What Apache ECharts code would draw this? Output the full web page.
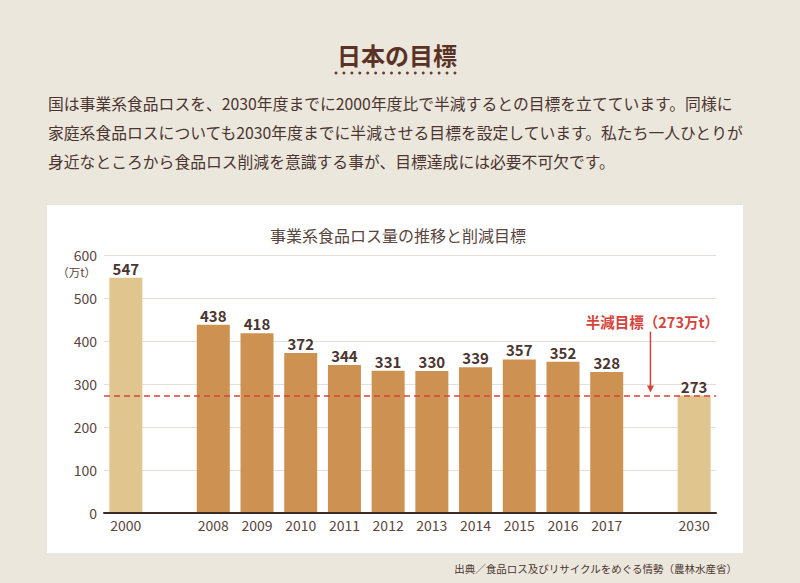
<!DOCTYPE html>
<html><head><meta charset="utf-8">
<script src="https://cdn.jsdelivr.net/npm/echarts@6/dist/echarts.min.js"></script>
<style>html,body{margin:0;padding:0;background:#ece7dd;}#c{width:800px;height:583px;}</style>
</head><body><div id="c"></div>
<script>
// ---- data ----
const categories = ['2000', '', '2008', '2009', '2010', '2011', '2012', '2013', '2014', '2015', '2016', '2017', ' ', '2030'];
const lossValues = [547, null, 438, 418, 372, 344, 331, 330, 339, 357, 352, 328, null, 273];
const baseYears = ['2000', '2030'];
const targetValue = 273;
const yMin = 0, yMax = 600, yStep = 100;
const pageTitle = '日本の目標';
const paragraphLines = [
  '国は事業系食品ロスを、2030年度までに2000年度比で半減するとの目標を立てています。同様に',
  '家庭系食品ロスについても2030年度までに半減させる目標を設定しています。私たち一人ひとりが',
  '身近なところから食品ロス削減を意識する事が、目標達成には必要不可欠です。'
];
const chartTitle = '事業系食品ロス量の推移と削減目標';
const unitLabel = '（万t）';
const targetLabel = '半減目標（273万t）';
const sourceText = '出典／食品ロス及びリサイクルをめぐる情勢（農林水産省）';

// ---- style ----
const FONT = '"Noto Sans CJK JP", "Noto Sans", sans-serif';
const BROWN = '#4a3530';
const AXIS_TXT = '#5a4540';
const LIGHT = '#e1c58f';
const ORANGE = '#cd9152';
const RED = '#d5443b';

const chart = echarts.init(document.getElementById('c'), null, {renderer: 'svg', width: 800, height: 583});

chart.setOption({
  backgroundColor: '#ece7dd',
  animation: false,
  textStyle: {fontFamily: FONT},
  grid: {left: 104, right: 84, top: 255, bottom: 70, containLabel: false},
  xAxis: {
    type: 'category',
    data: categories,
    axisLine: {show: true, lineStyle: {color: '#3e2a25', width: 2}},
    axisTick: {show: false},
    axisLabel: {color: AXIS_TXT, fontSize: 14, margin: 5, interval: 0, fontFamily: FONT},
    splitLine: {show: false},
    z: 3
  },
  yAxis: {
    type: 'value',
    min: yMin, max: yMax, interval: yStep,
    axisLine: {show: false},
    axisTick: {show: false},
    axisLabel: {color: AXIS_TXT, fontSize: 14, margin: 7, fontFamily: FONT},
    splitLine: {lineStyle: {color: '#e4dfdb', width: 1}}
  },
  series: [{
    type: 'bar',
    data: lossValues,
    barWidth: 33,
    itemStyle: {
      color: p => baseYears.includes(categories[p.dataIndex]) ? LIGHT : ORANGE
    },
    label: {
      show: true, position: 'top', distance: 2,
      color: BROWN, fontSize: 15, fontWeight: 'bold', fontFamily: FONT
    },
    markLine: {
      silent: true,
      symbol: 'none',
      label: {show: false},
      lineStyle: {color: RED, type: [6, 4], width: 1.5},
      data: [{yAxis: targetValue}]
    }
  }]
});

// positions derived from the chart's own scales
const lastIdx = categories.length - 1;
const prevIdx = categories.indexOf('2017');
const xPrev = chart.convertToPixel({xAxisIndex: 0}, prevIdx);
const xLast = chart.convertToPixel({xAxisIndex: 0}, lastIdx);
const arrowX = (xPrev + xLast) / 2;
const targetY = chart.convertToPixel({yAxisIndex: 0}, targetValue);
const topY = chart.convertToPixel({yAxisIndex: 0}, yMax);

function txt(text, x, y, size, color, align, weight) {
  return {
    type: 'text', z: 50,
    style: {
      text, x, y, fill: color, fontSize: size, fontFamily: FONT, fontWeight: weight || 'normal',
      textAlign: align, align: align, textVerticalAlign: 'middle', verticalAlign: 'middle'
    }
  };
}

const g = [];
// white panel
g.push({type: 'rect', z: -100, shape: {x: 47, y: 205, width: 696, height: 348}, style: {fill: '#ffffff'}, silent: true});
// page title + dotted underline
g.push(txt(pageTitle, 397, 54, 24, '#5a3226', 'center', 'bold'));
for (let i = 0; i < 16; i++) {
  g.push({type: 'circle', z: 50, shape: {cx: 336 + i * 7.93, cy: 73, r: 1.5}, style: {fill: '#6b3d2e'}});
}
// paragraph
paragraphLines.forEach((line, i) => g.push(txt(line, 48, 103 + i * 29.3, 15.8, BROWN, 'left')));
// chart title
g.push(txt(chartTitle, 398, 235, 16, AXIS_TXT, 'center'));
// unit label under the top tick
g.push(txt(unitLabel, 96, topY + 17, 11.5, AXIS_TXT, 'right'));
// target annotation and arrow
g.push(txt(targetLabel, arrowX + 2, targetY - 74, 14.5, RED, 'center', 'bold'));
g.push({type: 'line', z: 50, shape: {x1: arrowX, y1: targetY - 64, x2: arrowX, y2: targetY - 8}, style: {stroke: RED, lineWidth: 1.5}});
g.push({type: 'polygon', z: 50, shape: {points: [[arrowX - 3.5, targetY - 10], [arrowX + 3.5, targetY - 10], [arrowX, targetY - 3]]}, style: {fill: RED}});
// source
g.push(txt(sourceText, 737, 568, 10.5, BROWN, 'right'));

chart.setOption({graphic: g});
</script>
</body></html>
